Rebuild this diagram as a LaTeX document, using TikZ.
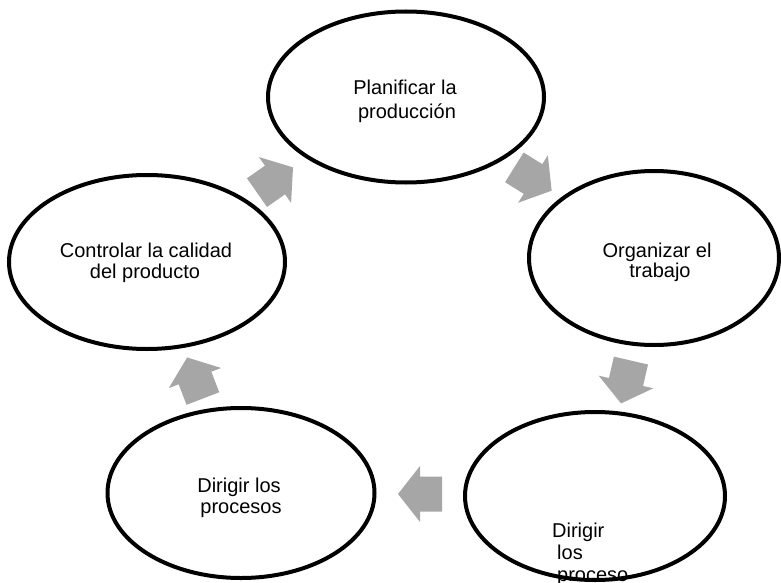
\documentclass[tikz,border=0pt]{standalone}
\usepackage{fontspec}
\setmainfont{Liberation Sans}
\usetikzlibrary{shapes.geometric}
\definecolor{arrowgray}{HTML}{A6A6A6}
\begin{document}
\begin{tikzpicture}[x=1pt,y=-1pt,
  stage/.style={ellipse, draw=black, line width=4pt, fill=white, inner sep=0pt},
  txt/.style={inner sep=0pt, font=\fontsize{20}{22}\selectfont},
  cyclearrow/.pic={\fill[arrowgray] (-22,-17.5) -- (0,-17.5) -- (0,-28) -- (22,0)
                     -- (0,28) -- (0,17.5) -- (-22,17.5) -- cycle;}
]
\useasboundingbox (0,0) rectangle (781,583);

% block arrows of the cycle
\pic (a1) [rotate=35]   at (275,180) {cyclearrow};
\pic (a2) [rotate=-32]  at (533,179) {cyclearrow};
\pic (a3) [rotate=-103] at (626,382) {cyclearrow};
\pic (a4) [rotate=180]  at (420,494) {cyclearrow};
\pic (a5) [rotate=111]  at (195,378) {cyclearrow};

% stages
\node[stage, minimum width=276, minimum height=171] (plan) at (406,97) {};
\node[stage, minimum width=250, minimum height=174] (org)  at (654,258) {};
\node[stage, minimum width=260, minimum height=168] (dir2) at (595,496) {};
\node[stage, minimum width=267, minimum height=170] (dir1) at (241,493) {};
\node[stage, minimum width=276, minimum height=174] (ctrl) at (147,262) {};

% labels
\node[txt, anchor=base] (plan1) at (405,95)  {Planificar la};
\node[txt, anchor=base] (plan2) at (407,118) {producción};
\node[txt, anchor=base] (org1)  at (657,257) {Organizar el};
\node[txt, anchor=base] (org2)  at (660,277) {trabajo};
\node[txt, anchor=base] (ctrl1) at (146,257) {Controlar la calidad};
\node[txt, anchor=base] (ctrl2) at (145,278) {del producto};
\node[txt, anchor=base] (dir1a) at (239,492) {Dirigir los};
\node[txt, anchor=base] (dir1b) at (241,513) {procesos};
\node[txt, anchor=base west] (dir2a) at (552,537) {Dirigir};
\node[txt, anchor=base west] (dir2b) at (557,559) {los};
\node[txt, anchor=base west] (dir2c) at (557,581) {proceso};
\end{tikzpicture}
\end{document}
